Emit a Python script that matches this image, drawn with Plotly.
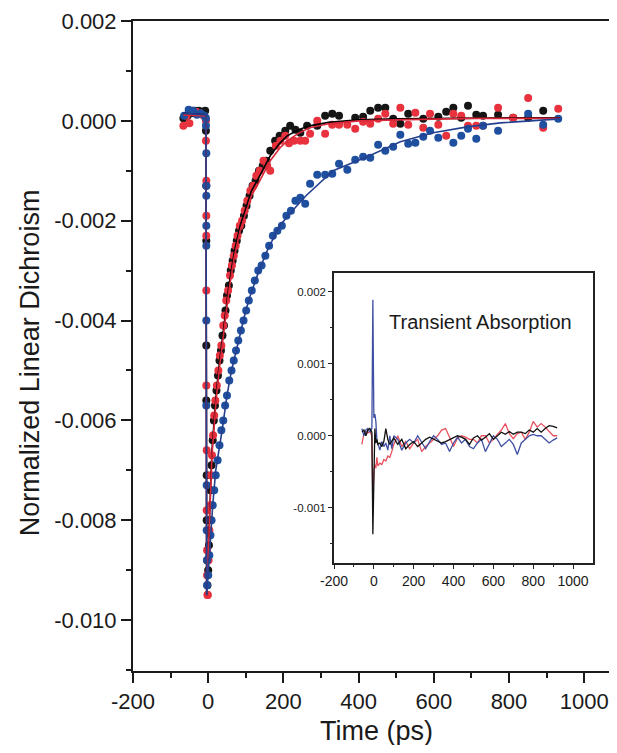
import plotly.graph_objects as go

# ---------------- main panel: data points (Time ps, normalized LD) ----------------
black_t = [-66, -55, -45, -35, -25, -15, -8,
           -6, -5, -5, -5, -5, -4, -4, -3, -2,
           0, 2, 4, 6, 9, 12, 15, 18, 22, 26, 30, 34, 38, 42, 46, 50, 55, 60, 65, 70,
           76, 82, 88, 95, 102, 110, 118, 126, 135, 145, 155, 165, 178, 190, 205, 218, 232,
           245, 263, 290, 311, 330, 348, 391, 412, 431, 452, 471, 492, 511, 532, 572, 612,
           633, 652, 673, 691, 713, 731, 771, 811, 851, 891]
black_y = [0.00005, 0.0001, 0.00015, 0.0002, 0.0002, 0.00018, 0.0002,
           -0.0002, -0.0013, -0.0024, -0.0045, -0.0056, -0.0071, -0.0080, -0.0088, -0.0093,
           -0.0090, -0.0085, -0.0080, -0.0074, -0.0069, -0.0064, -0.0060, -0.0057, -0.0054,
           -0.0051, -0.0048, -0.0046, -0.0043, -0.0041, -0.0038, -0.0035, -0.0033, -0.0030,
           -0.0028, -0.0026, -0.0024, -0.0022, -0.0021, -0.0019, -0.0017, -0.0015, -0.0013,
           -0.0012, -0.0010, -0.0009, -0.0008, -0.0006, -0.0004, -0.0003, -0.0002, -0.0001,
           -0.00018, -0.00024, -0.0001, -0.0001, 0.0001, 0.00014, 0.0001, 0.00006, 0.00008,
           0.0002, 0.00026, 0.00026, 0.00004, -0.00006, 0.00014, 0.00004, 0.00008, 0.00018,
           0.00026, 0.00006, 0.0003, 0.00012, 0.0001, 0.00012, 0.00006, 0.00006, 0.0002]

red_t = [-66, -58, -50, -42, -32, -22, -12, -6,
         -6, -5, -5, -5, -5, -5, -4, -4, -3, -3, -2,
         -1, 1, 3, 5, 7, 10, 13, 16, 19, 23, 27, 31, 35, 40, 44, 48, 53, 58, 63, 68, 73,
         78, 84, 90, 97, 104, 112, 120, 128, 137, 147, 157, 165, 180, 192, 205, 215, 228,
         245, 258, 271, 290, 311, 330, 348, 370, 391, 412, 431, 452, 471, 492, 511, 532,
         551, 572, 590, 612, 633, 652, 673, 691, 713, 731, 771, 811, 851, 891, 931]
red_y = [-0.0001, 0.0001, -0.00005, 0.0002, 0.00018, 0.00015, 0.0001, 0.0,
         -0.0004, -0.0012, -0.0019, -0.0023, -0.0034, -0.0053, -0.0066, -0.0078, -0.0086,
         -0.0091, -0.0095,
         -0.0095, -0.0088, -0.0082, -0.0077, -0.0071, -0.0067, -0.0063, -0.0059, -0.0056,
         -0.0053, -0.0050, -0.0047, -0.0045, -0.0041, -0.0039, -0.0036, -0.0034, -0.0031,
         -0.0029, -0.0027, -0.0025, -0.0023, -0.0021, -0.0020, -0.0018, -0.0016, -0.0014,
         -0.0013, -0.0011, -0.0010, -0.0008, -0.0009, -0.0010, -0.0005, -0.0004, -0.0003,
         -0.00045, -0.0004,
         -0.0004, -0.0004, -0.00026, 0.0, -0.00026, -0.00008, -0.00008, -0.00008, -0.00016,
         -0.00002, -0.00006, 0.00004, 0.00014, -0.00006, 0.00026, -0.00008, 0.00016,
         -0.00014, 0.00014, -0.00008, -0.0003, 0.00014, 0.0001, -0.0001, -0.0001, -0.0001,
         0.00026, 0.00006, 0.00046, -0.00014, 0.00024]

blue_t = [-64, -52, -40, -30, -20, -10, -6,
          -6, -5, -5, -5, -5, -5, -5, -5, -4, -4, -3, -3,
          0, 3, 6, 9, 12, 16, 20, 25, 30, 35, 40, 45, 50, 56, 62, 68, 74, 80, 87, 94, 101,
          108, 116, 124, 133, 142, 152, 162, 172, 184, 196, 208, 220, 232,
          245, 258, 271, 290, 311, 330, 348, 370, 391, 412, 431, 452, 471, 492, 511, 532,
          551, 572, 590, 612, 652, 673, 691, 713, 731, 771, 851, 891, 931]
blue_y = [0.0001, 0.00022, 0.0002, 0.00012, 0.00015, 0.0001, 0.00005,
          -0.0001, -0.00065, -0.0013, -0.0015, -0.0021, -0.0025, -0.0040, -0.0057, -0.0073,
          -0.0082, -0.0088, -0.0093,
          -0.0091, -0.0087, -0.0083, -0.0080, -0.0077, -0.0074, -0.0071, -0.0068, -0.0065,
          -0.0062, -0.0060, -0.0057, -0.0055, -0.0052, -0.0050, -0.0048, -0.0046, -0.0044,
          -0.0042, -0.0040, -0.0038, -0.0036, -0.0034, -0.0032, -0.0030, -0.0029, -0.0027,
          -0.0025, -0.0023, -0.0022, -0.0021, -0.0019, -0.0018, -0.0016,
          -0.00154, -0.00166, -0.00126, -0.00108, -0.00108, -0.00106, -0.00086, -0.00098,
          -0.00078, -0.00072, -0.00074, -0.00048, -0.0006, -0.00052, -0.00028, -0.00046,
          -0.00044, -0.00032, -0.0002, -0.00034, -0.00044, -0.0003, -0.00016, -0.00036,
          -0.0001, -0.0002, 0.00014, -0.00008, 0.00004]

# ---------------- main panel: fitted curves ----------------
black_fit_t = [-66, -6, -4, 0, 2, 5, 10, 14, 21, 29, 40, 55, 70, 85, 98, 115, 130, 150, 165,
               190, 210, 240, 270, 320, 400, 500, 600, 700, 800, 935]
black_fit_y = [0.00015, 0.00012, -0.0095, -0.0086, -0.0080, -0.0073, -0.0066, -0.0062,
               -0.0055, -0.0049, -0.0042, -0.0033, -0.0026, -0.0021, -0.0018, -0.0014,
               -0.0012, -0.0009, -0.0007, -0.00045, -0.0003, -0.00018, -0.0001, -0.00003,
               0.00002, 0.00004, 0.00005, 0.00006, 0.00006, 0.00006]
red_fit_t = [-66, -6, -4, 0, 2, 5, 10, 14, 21, 29, 40, 55, 70, 85, 98, 115, 130, 150, 165,
             190, 210, 240, 270, 320, 400, 500, 600, 700, 800, 935]
red_fit_y = [0.00012, 0.0001, -0.0095, -0.0087, -0.0081, -0.0074, -0.0067, -0.0063,
             -0.0056, -0.0050, -0.0043, -0.0034, -0.0027, -0.0022, -0.0019, -0.0015,
             -0.0013, -0.0010, -0.0008, -0.00055, -0.0004, -0.00025, -0.00014, -0.00006,
             0.0, 0.00002, 0.00004, 0.00005, 0.00005, 0.00005]
blue_fit_t = [-66, -6, -4, 0, 5, 12, 20, 37, 50, 62, 85, 100, 112, 135, 157, 190, 224, 260,
              332, 423, 511, 598, 689, 777, 936]
blue_fit_y = [0.00015, 0.00012, -0.0095, -0.0091, -0.0085, -0.0077, -0.0070, -0.0062,
              -0.0055, -0.0050, -0.0043, -0.0038, -0.0035, -0.0030, -0.0026, -0.0021,
              -0.0018, -0.0015, -0.0010, -0.00072, -0.00042, -0.00024, -0.00012, -0.00004,
              0.00004]

# ---------------- inset: transient absorption traces ----------------
ta_t = [-60, -50, -40, -30, -20, -10, -5, 0, 5, 10, 15, 20, 30, 40, 50, 60, 70, 80, 90, 100,
        120, 140, 160, 180, 200, 220, 240, 260, 280, 300, 320, 340, 360, 380, 400, 420, 440,
        460, 480, 500, 520, 540, 560, 580, 600, 620, 640, 660, 680, 700, 720, 740, 760, 780,
        800, 820, 840, 860, 880, 900, 920]
ta_red = [-0.00012, 0.00003, 0.00006, 0.00004, 0.00006, 0.0, -0.0009, -0.0005, -0.0004,
          -0.00045, -0.0003, -0.00042, -0.00038, -0.0004, -0.00033, -0.00035, -0.00028,
          -0.0003, -0.00022, -0.00012, 0.0, -0.00015, -0.00008, -0.00018, -0.0001, -0.00005,
          -0.00022, -0.00015, -0.0001, -0.00005, 0.0, 0.00008, 0.0001, -0.00002, -0.00015,
          -0.00003, 0.0, -0.00002, -0.00005, -0.00005, -0.0001, 0.0, 0.0, -0.0001, -0.00005,
          0.00002, 0.00008, 0.00017, 0.00003, -0.00004, 0.00003, 0.00005, -0.00005, 0.00005,
          0.0002, 0.00012, 0.00017, 0.00012, 0.00006, 0.0, 0.0]
ta_black = [0.00005, 0.00008, 0.0, 0.00008, 0.0001, 0.00005, -0.00137, -0.0003, 0.0001,
            -0.0001, -0.00005, -0.00012, -0.0001, -0.00015, -0.00008, 0.0001, -0.00005,
            -0.00012, -0.00008, -0.00003, -0.00012, -0.00005, -0.00018, -0.00012, -0.00008,
            -0.00015, -0.0001, -0.00005, -0.00002, -0.00005, -0.00008, -0.0001, -0.00008,
            -0.00005, -0.00002, 0.0, -0.00002, -0.00005, -0.00012, -0.00003, 0.0, -0.00006,
            -0.00002, 0.00003, -0.00005, 0.0, 0.00005, 0.00002, 0.00006, 0.00002, 0.00005,
            0.00005, 0.00003, 0.00008, 0.00005, 0.0001, 0.00005, 0.0001, 0.00014, 0.00013,
            0.00011]
ta_blue = [0.0001, 0.0, 0.00008, 0.0001, 0.00005, 0.0001, 0.00189, 0.00025, 0.0003, 0.0002,
           -0.00005, -0.0001, -0.0002, -0.00008, -0.00015, -0.0001, -0.0002, 0.0, -0.00018,
           0.0, -0.00005, -0.0002, -0.0001, -0.00005, -0.0001, 0.0, -0.0001, -0.00018,
           -0.00008, 0.0, -0.00005, -0.00012, -0.0001, -0.00022, -0.0001, -0.00002, -0.0001,
           -0.00005, -0.00015, -0.00018, -0.0001, -0.00005, -0.00022, -0.00012, 0.0,
           -0.00005, -0.00015, -0.0001, -0.00005, -0.00012, -0.00026, -0.0001, -0.00005, 0.0,
           0.00002, 0.0, 0.0, -0.00005, -0.0001, -0.00006, -0.00003]

# ---------------- tick labels ----------------
main_x_ticks = [-200, 0, 200, 400, 600, 800, 1000]
main_x_labels = ["-200", "0", "200", "400", "600", "800", "1000"]
main_x_minor = [-100, 100, 300, 500, 700, 900]
main_y_ticks = [-0.010, -0.008, -0.006, -0.004, -0.002, 0.000, 0.002]
main_y_labels = ["-0.010", "-0.008", "-0.006", "-0.004", "-0.002", "0.000", "0.002"]
main_y_minor = [-0.011, -0.009, -0.007, -0.005, -0.003, -0.001, 0.001]
inset_x_ticks = [-200, 0, 200, 400, 600, 800, 1000]
inset_x_labels = ["-200", "0", "200", "400", "600", "800", "1000"]
inset_x_minor = [-100, 100, 300, 500, 700, 900]
inset_y_ticks = [-0.001, 0.000, 0.001, 0.002]
inset_y_labels = ["-0.001", "0.000", "0.001", "0.002"]
inset_y_minor = [-0.0015, -0.0005, 0.0005, 0.0015]

BLACK = "#151515"
RED = "#e8323e"
BLUE = "#1f4f9f"
INK = "#1a1a1a"
FONT = "Liberation Sans, Arial, Helvetica, sans-serif"

fig = go.Figure()

for t, y, c in [(black_t, black_y, BLACK), (red_t, red_y, RED), (blue_t, blue_y, BLUE)]:
    fig.add_trace(go.Scatter(x=t, y=y, mode="markers",
                             marker=dict(color=c, size=8, line=dict(width=0)),
                             showlegend=False, xaxis="x", yaxis="y"))

for t, y, c in [(black_fit_t, black_fit_y, "#000000"), (red_fit_t, red_fit_y, "#d8283a"),
                (blue_fit_t, blue_fit_y, "#24408f")]:
    fig.add_trace(go.Scatter(x=t, y=y, mode="lines", line=dict(color=c, width=1.6),
                             showlegend=False, xaxis="x", yaxis="y"))

for y, c in [(ta_red, "#e8505e"), (ta_blue, "#3f4fa3"), (ta_black, "#111111")]:
    fig.add_trace(go.Scatter(x=ta_t, y=y, mode="lines", line=dict(color=c, width=1.3),
                             showlegend=False, xaxis="x2", yaxis="y2"))

# page has an 8px body margin, so the figure is sized/shifted to compensate
fig.update_layout(
    width=601, height=737,
    margin=dict(l=125, r=0, t=13, b=74),
    paper_bgcolor="white", plot_bgcolor="rgba(0,0,0,0)",
    font=dict(family=FONT, color=INK),
    xaxis=dict(domain=[0, 1], range=[-200, 1066], showgrid=False, zeroline=False,
               showline=True, linecolor=INK, linewidth=2, mirror=True,
               ticks="outside", ticklen=10, tickwidth=2, tickcolor=INK,
               tickvals=main_x_ticks, ticktext=main_x_labels,
               tickfont=dict(size=22, family=FONT, color=INK),
               minor=dict(tickvals=main_x_minor, ticks="outside", ticklen=5, tickwidth=1.5,
                          tickcolor=INK)),
    yaxis=dict(domain=[0, 1], range=[-0.01102, 0.002], showgrid=False, zeroline=False,
               showline=True, linecolor=INK, linewidth=2,
               ticks="outside", ticklen=10, tickwidth=2, tickcolor=INK,
               tickvals=main_y_ticks, ticktext=main_y_labels,
               tickfont=dict(size=22, family=FONT, color=INK),
               minor=dict(tickvals=main_y_minor, ticks="outside", ticklen=5, tickwidth=1.5,
                          tickcolor=INK)),
    xaxis2=dict(domain=[0.4223, 0.9664], anchor="y2", range=[-200, 1100], showgrid=False,
                zeroline=False, showline=True, linecolor="#222", linewidth=1.5, mirror=True,
                ticks="outside", ticklen=4, tickwidth=1, tickcolor="#222",
                tickvals=inset_x_ticks, ticktext=inset_x_labels,
                tickfont=dict(size=14, family=FONT, color=INK),
                minor=dict(tickvals=inset_x_minor, ticks="outside", ticklen=2, tickwidth=1,
                           tickcolor="#222")),
    yaxis2=dict(domain=[0.166, 0.612], anchor="x2", range=[-0.00177, 0.00226], showgrid=False,
                zeroline=False, showline=True, linecolor="#222", linewidth=1.5, mirror=True,
                ticks="outside", ticklen=4, tickwidth=1, tickcolor="#222",
                tickvals=inset_y_ticks, ticktext=inset_y_labels,
                tickfont=dict(size=11.5, family=FONT, color=INK),
                minor=dict(tickvals=inset_y_minor, ticks="outside", ticklen=2, tickwidth=1,
                           tickcolor="#222")),
    annotations=[
        dict(text="Normalized Linear Dichroism", xref="paper", yref="paper",
             x=-0.2164, y=0.475, xanchor="center", yanchor="middle", textangle=-90,
             showarrow=False, font=dict(size=27, family=FONT, color=INK)),
        dict(text="Time (ps)", xref="paper", yref="paper", x=0.5126, y=-0.093,
             xanchor="center", yanchor="middle",
             showarrow=False, font=dict(size=27, family=FONT, color=INK)),
        dict(text="Transient Absorption", xref="paper", yref="paper", x=0.729, y=0.537,
             xanchor="center", yanchor="middle",
             showarrow=False, font=dict(size=20, family=FONT, color=INK)),
    ],
)

fig.write_html("out.html")
